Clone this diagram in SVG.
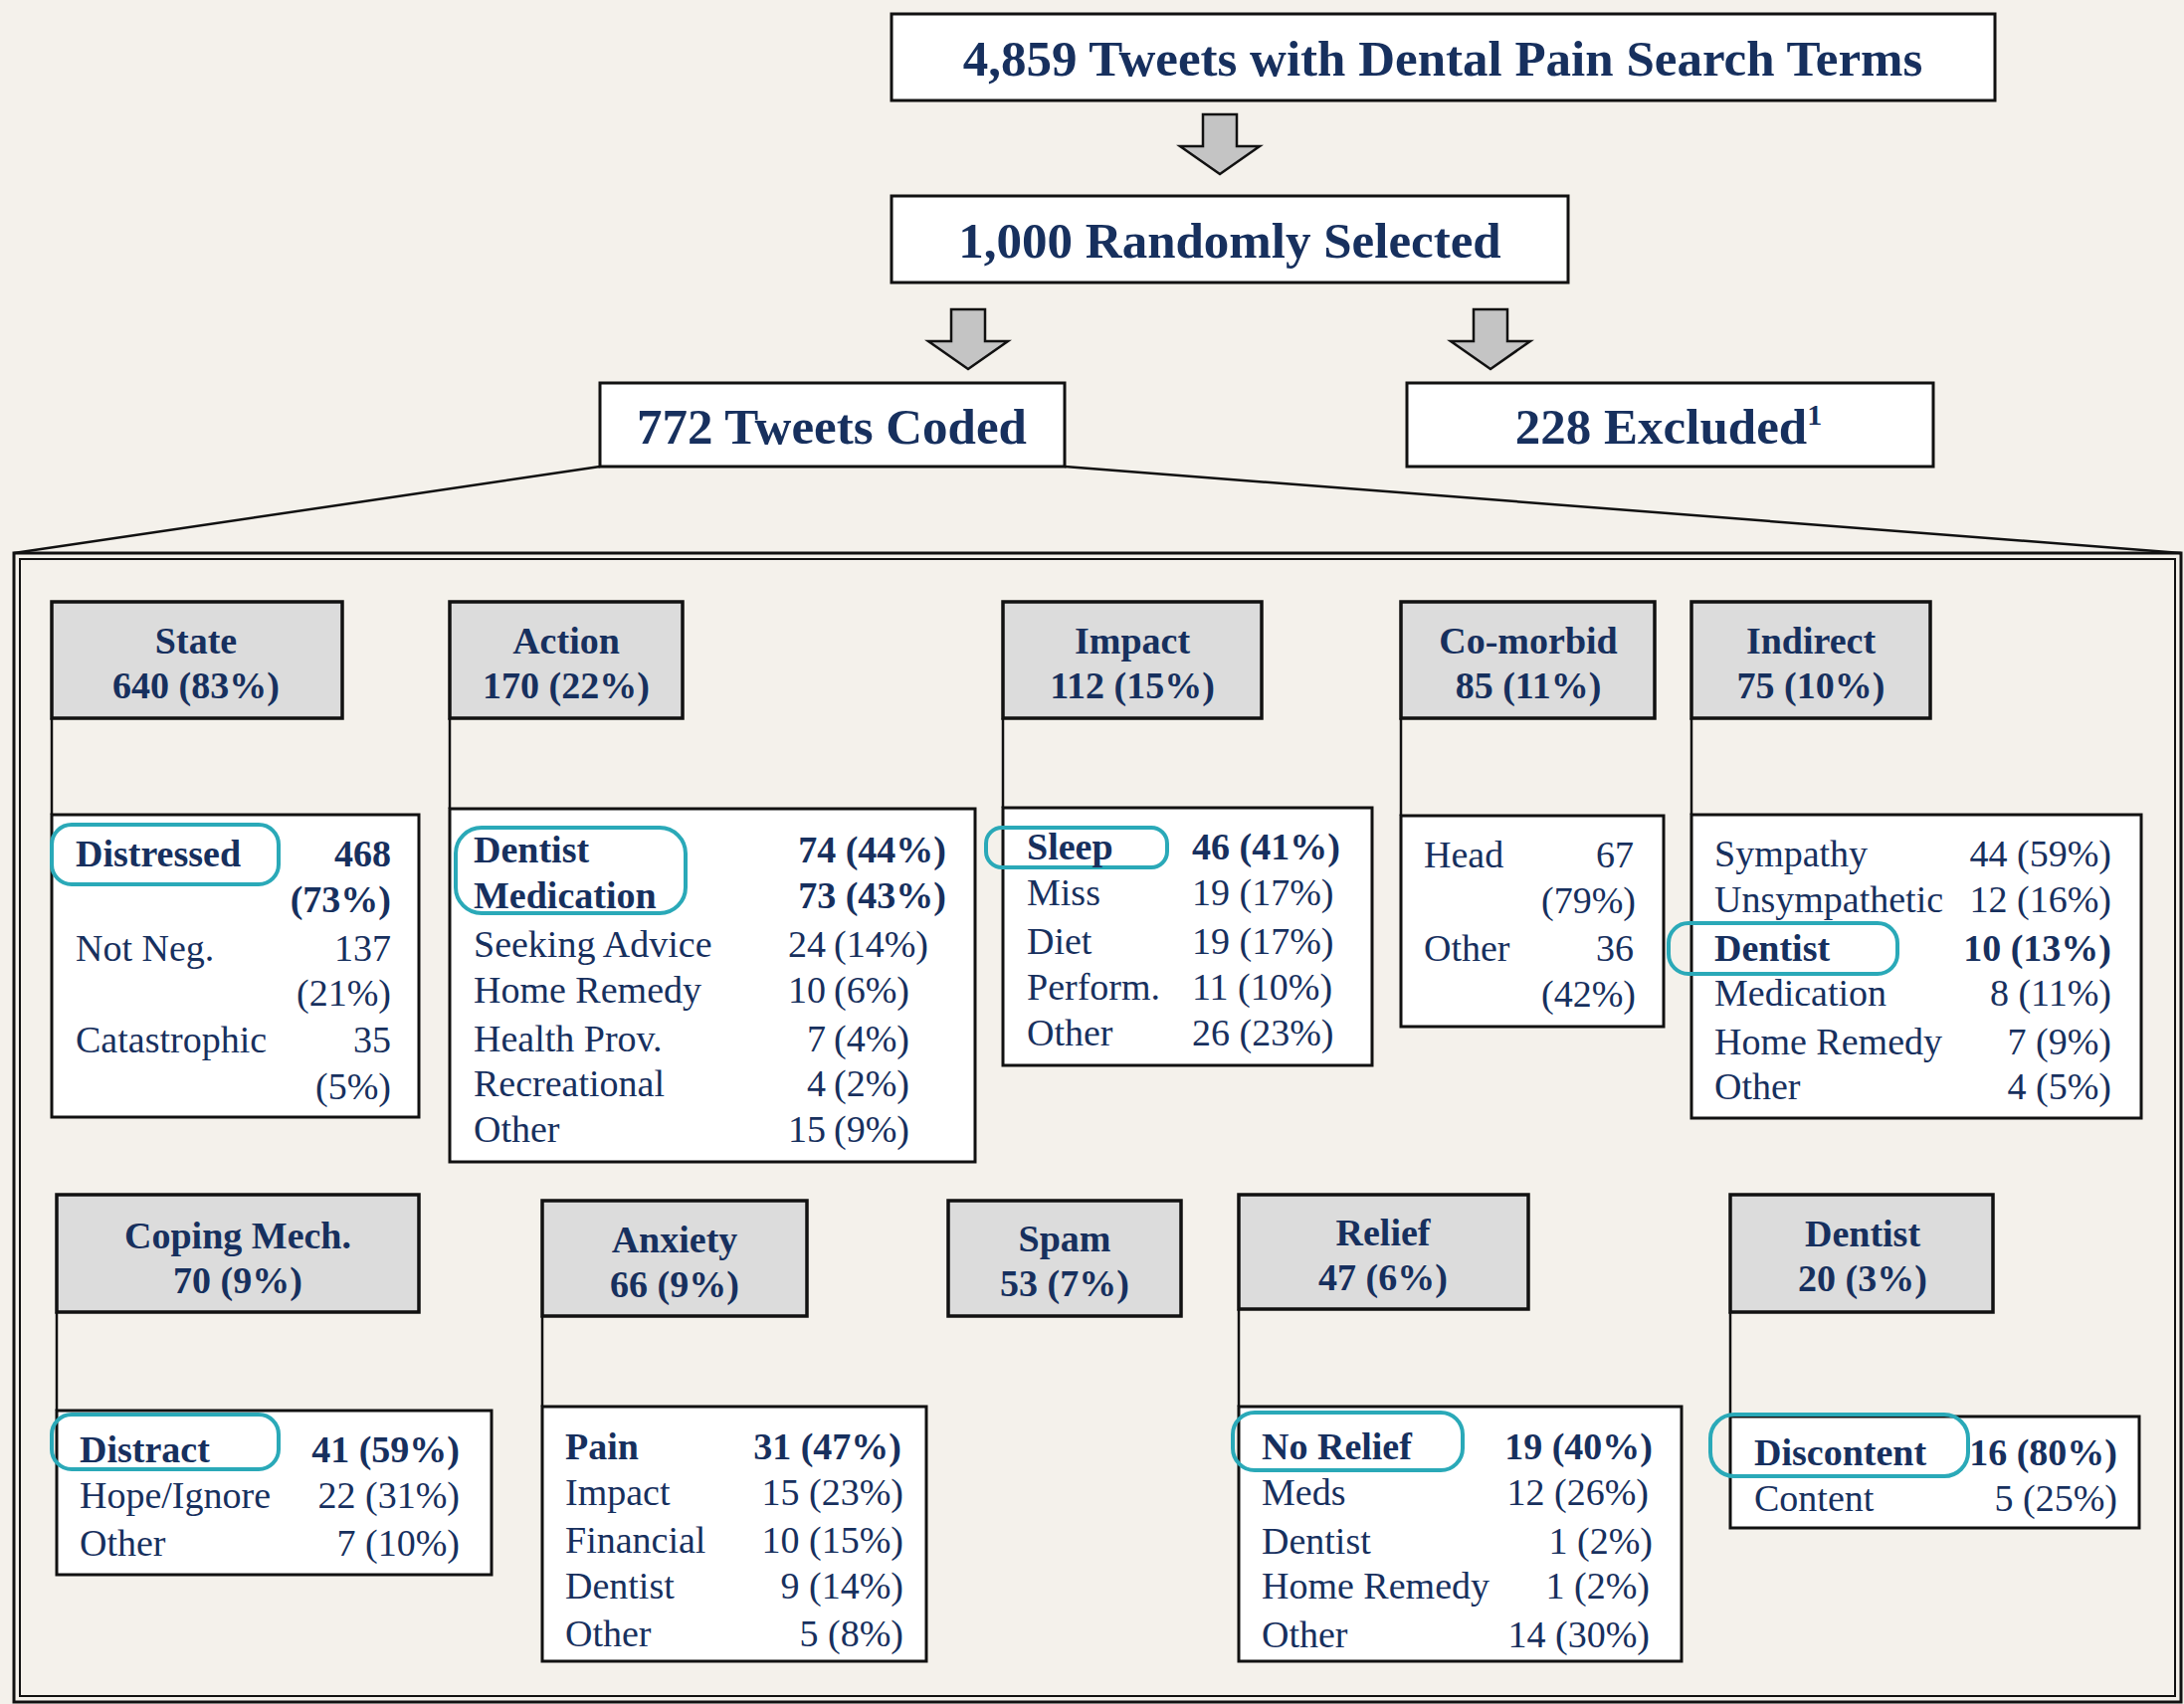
<svg xmlns="http://www.w3.org/2000/svg" width="2195" height="1713" viewBox="0 0 2195 1713">
<style>
.bg{fill:#f4f1eb}
.top{fill:#ffffff;stroke:#111;stroke-width:3}
.hdr{fill:#dcdcdc;stroke:#111;stroke-width:3.5}
.sub{fill:#ffffff;stroke:#111;stroke-width:3}
.con{fill:none;stroke:#111;stroke-width:2.5}
.hl{fill:none;stroke:#2aa9b8;stroke-width:4}
.arr{fill:#c4c4c4;stroke:#111;stroke-width:2.5;stroke-linejoin:miter}
text{font-family:"Liberation Serif","Times New Roman",serif;fill:#17305e}
.big{font-size:51px;font-weight:bold;text-anchor:middle}
.h{font-size:38px;font-weight:bold;text-anchor:middle}
.t{font-size:38px}
.b{font-weight:bold}
.r{text-anchor:end}
</style>
<defs>
<path id="arrow" class="arr" d="M-17,0 H17 V32 H40 L0,60 L-40,32 H-17 Z"/>
</defs>
<rect class="bg" x="0" y="0" width="2195" height="1713"/>

<g id="connectors">
<use href="#arrow" x="1226" y="115"/>
<use href="#arrow" x="973" y="311"/>
<use href="#arrow" x="1498" y="311"/>
<path class="con" d="M603,469 L14,556 M1070,469 L2192,556"/>
<path class="con" d="M52,722 V819 M452,722 V813 M1008,722 V812 M1408,722 V820 M1700,722 V819"/>
<path class="con" d="M57,1319 V1418 M545,1323 V1414 M1245,1316 V1414 M1739,1319 V1424"/>
</g>

<g id="n-total">
<rect class="top" x="896" y="14" width="1109" height="87"/>
<text class="big" x="1450" y="76">4,859 Tweets with Dental Pain Search Terms</text>
</g>
<g id="n-random">
<rect class="top" x="896" y="197" width="680" height="87"/>
<text class="big" x="1236" y="259">1,000 Randomly Selected</text>
</g>
<g id="n-coded">
<rect class="top" x="603" y="385" width="467" height="84"/>
<text class="big" x="836" y="446">772 Tweets Coded</text>
</g>
<g id="n-excluded">
<rect class="top" x="1414" y="385" width="529" height="84"/>
<text class="big" x="1677" y="446">228 Excluded<tspan font-size="30" dy="-19">1</tspan></text>
</g>

<g id="frame">
<rect fill="none" stroke="#111" stroke-width="3" x="14" y="556" width="2178" height="1155"/>
<rect fill="none" stroke="#111" stroke-width="2" x="20" y="562" width="2166" height="1143"/>
</g>

<g id="n-state">
<rect class="hdr" x="52" y="605" width="292" height="117"/>
<text class="h" x="197" y="657">State</text>
<text class="h" x="197" y="702">640 (83%)</text>
</g>
<g id="n-state-sub">
<rect class="sub" x="52" y="819" width="369" height="304"/>
<rect class="hl" x="52" y="829" width="228" height="60" rx="20"/>
<text class="t b" x="76" y="871">Distressed</text><text class="t b r" x="393" y="871">468</text>
<text class="t b r" x="393" y="917">(73%)</text>
<text class="t" x="76" y="966">Not Neg.</text><text class="t r" x="393" y="966">137</text>
<text class="t r" x="393" y="1011">(21%)</text>
<text class="t" x="76" y="1058">Catastrophic</text><text class="t r" x="393" y="1058">35</text>
<text class="t r" x="393" y="1105">(5%)</text>
</g>

<g id="n-action">
<rect class="hdr" x="452" y="605" width="234" height="117"/>
<text class="h" x="569" y="657">Action</text>
<text class="h" x="569" y="702">170 (22%)</text>
</g>
<g id="n-action-sub">
<rect class="sub" x="452" y="813" width="528" height="355"/>
<rect class="hl" x="458" y="832" width="231" height="86" rx="26"/>
<text class="t b" x="476" y="867">Dentist</text><text class="t b r" x="951" y="867">74 (44%)</text>
<text class="t b" x="476" y="913">Medication</text><text class="t b r" x="951" y="913">73 (43%)</text>
<text class="t" x="476" y="962">Seeking Advice</text><text class="t r" x="830" y="962">24</text><text class="t" x="838" y="962">(14%)</text>
<text class="t" x="476" y="1008">Home Remedy</text><text class="t r" x="830" y="1008">10</text><text class="t" x="838" y="1008">(6%)</text>
<text class="t" x="476" y="1057">Health Prov.</text><text class="t r" x="830" y="1057">7</text><text class="t" x="838" y="1057">(4%)</text>
<text class="t" x="476" y="1102">Recreational</text><text class="t r" x="830" y="1102">4</text><text class="t" x="838" y="1102">(2%)</text>
<text class="t" x="476" y="1148">Other</text><text class="t r" x="830" y="1148">15</text><text class="t" x="838" y="1148">(9%)</text>
</g>

<g id="n-impact">
<rect class="hdr" x="1008" y="605" width="260" height="117"/>
<text class="h" x="1138" y="657">Impact</text>
<text class="h" x="1138" y="702">112 (15%)</text>
</g>
<g id="n-impact-sub">
<rect class="sub" x="1008" y="812" width="371" height="259"/>
<rect class="hl" x="991" y="832" width="182" height="40" rx="16"/>
<text class="t b" x="1032" y="864">Sleep</text><text class="t b" x="1198" y="864">46 (41%)</text>
<text class="t" x="1032" y="910">Miss</text><text class="t" x="1198" y="910">19 (17%)</text>
<text class="t" x="1032" y="959">Diet</text><text class="t" x="1198" y="959">19 (17%)</text>
<text class="t" x="1032" y="1005">Perform.</text><text class="t" x="1198" y="1005">11 (10%)</text>
<text class="t" x="1032" y="1051">Other</text><text class="t" x="1198" y="1051">26 (23%)</text>
</g>

<g id="n-comorbid">
<rect class="hdr" x="1408" y="605" width="255" height="117"/>
<text class="h" x="1536" y="657">Co-morbid</text>
<text class="h" x="1536" y="702">85 (11%)</text>
</g>
<g id="n-comorbid-sub">
<rect class="sub" x="1408" y="820" width="264" height="212"/>
<text class="t" x="1431" y="872">Head</text><text class="t r" x="1642" y="872">67</text>
<text class="t r" x="1644" y="918">(79%)</text>
<text class="t" x="1431" y="966">Other</text><text class="t r" x="1642" y="966">36</text>
<text class="t r" x="1644" y="1012">(42%)</text>
</g>

<g id="n-indirect">
<rect class="hdr" x="1700" y="605" width="240" height="117"/>
<text class="h" x="1820" y="657">Indirect</text>
<text class="h" x="1820" y="702">75 (10%)</text>
</g>
<g id="n-indirect-sub">
<rect class="sub" x="1700" y="819" width="452" height="305"/>
<rect class="hl" x="1677" y="928" width="230" height="51" rx="20"/>
<text class="t" x="1723" y="871">Sympathy</text><text class="t r" x="2122" y="871">44 (59%)</text>
<text class="t" x="1723" y="917">Unsympathetic</text><text class="t r" x="2122" y="917">12 (16%)</text>
<text class="t b" x="1723" y="966">Dentist</text><text class="t b r" x="2122" y="966">10 (13%)</text>
<text class="t" x="1723" y="1011">Medication</text><text class="t r" x="2122" y="1011">8 (11%)</text>
<text class="t" x="1723" y="1060">Home Remedy</text><text class="t r" x="2122" y="1060">7 (9%)</text>
<text class="t" x="1723" y="1105">Other</text><text class="t r" x="2122" y="1105">4 (5%)</text>
</g>

<g id="n-coping">
<rect class="hdr" x="57" y="1201" width="364" height="118"/>
<text class="h" x="239" y="1255">Coping Mech.</text>
<text class="h" x="239" y="1300">70 (9%)</text>
</g>
<g id="n-coping-sub">
<rect class="sub" x="57" y="1418" width="437" height="165"/>
<rect class="hl" x="52" y="1422" width="228" height="55" rx="20"/>
<text class="t b" x="80" y="1470">Distract</text><text class="t b r" x="462" y="1470">41 (59%)</text>
<text class="t" x="80" y="1516">Hope/Ignore</text><text class="t r" x="462" y="1516">22 (31%)</text>
<text class="t" x="80" y="1564">Other</text><text class="t r" x="462" y="1564">7 (10%)</text>
</g>

<g id="n-anxiety">
<rect class="hdr" x="545" y="1207" width="266" height="116"/>
<text class="h" x="678" y="1259">Anxiety</text>
<text class="h" x="678" y="1304">66 (9%)</text>
</g>
<g id="n-anxiety-sub">
<rect class="sub" x="545" y="1414" width="386" height="256"/>
<text class="t b" x="568" y="1467">Pain</text><text class="t b r" x="906" y="1467">31 (47%)</text>
<text class="t" x="568" y="1513">Impact</text><text class="t r" x="908" y="1513">15 (23%)</text>
<text class="t" x="568" y="1561">Financial</text><text class="t r" x="908" y="1561">10 (15%)</text>
<text class="t" x="568" y="1607">Dentist</text><text class="t r" x="908" y="1607">9 (14%)</text>
<text class="t" x="568" y="1655">Other</text><text class="t r" x="908" y="1655">5 (8%)</text>
</g>

<g id="n-spam">
<rect class="hdr" x="953" y="1207" width="234" height="116"/>
<text class="h" x="1070" y="1258">Spam</text>
<text class="h" x="1070" y="1303">53 (7%)</text>
</g>

<g id="n-relief">
<rect class="hdr" x="1245" y="1201" width="291" height="115"/>
<text class="h" x="1390" y="1252">Relief</text>
<text class="h" x="1390" y="1297">47 (6%)</text>
</g>
<g id="n-relief-sub">
<rect class="sub" x="1245" y="1414" width="445" height="256"/>
<rect class="hl" x="1239" y="1420" width="231" height="58" rx="22"/>
<text class="t b" x="1268" y="1467">No Relief</text><text class="t b r" x="1661" y="1467">19 (40%)</text>
<text class="t" x="1268" y="1513">Meds</text><text class="t r" x="1657" y="1513">12 (26%)</text>
<text class="t" x="1268" y="1562">Dentist</text><text class="t r" x="1661" y="1562">1 (2%)</text>
<text class="t" x="1268" y="1607">Home Remedy</text><text class="t r" x="1658" y="1607">1 (2%)</text>
<text class="t" x="1268" y="1656">Other</text><text class="t r" x="1658" y="1656">14 (30%)</text>
</g>

<g id="n-dentist">
<rect class="hdr" x="1739" y="1201" width="264" height="118"/>
<text class="h" x="1872" y="1253">Dentist</text>
<text class="h" x="1872" y="1298">20 (3%)</text>
</g>
<g id="n-dentist-sub">
<rect class="sub" x="1739" y="1424" width="411" height="112"/>
<rect class="hl" x="1719" y="1422" width="259" height="62" rx="24"/>
<text class="t b" x="1763" y="1473">Discontent</text><text class="t b r" x="2128" y="1473">16 (80%)</text>
<text class="t" x="1763" y="1519">Content</text><text class="t r" x="2128" y="1519">5 (25%)</text>
</g>
</svg>
